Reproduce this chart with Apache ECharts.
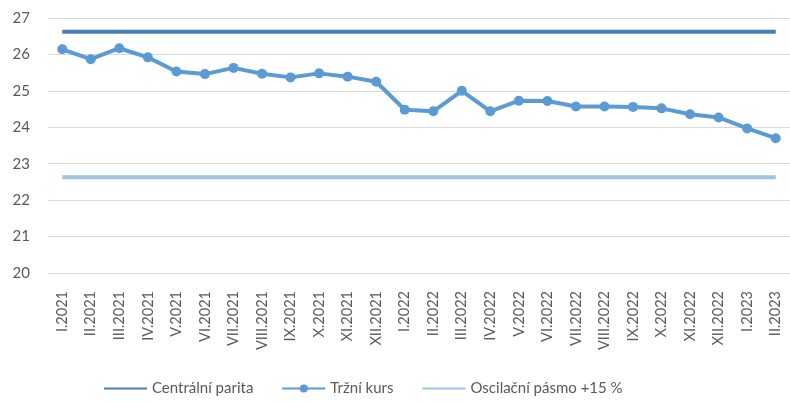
<!DOCTYPE html>
<html>
<head>
<meta charset="utf-8">
<script src="https://cdn.jsdelivr.net/npm/echarts@6/dist/echarts.min.js"></script>
<style>
  html, body { margin: 0; padding: 0; background: #fff; }
  #chart { width: 790px; height: 404px; }
</style>
</head>
<body>
<div id="chart"></div>
<script>
// mesice
var months = ['I.2021', 'II.2021', 'III.2021', 'IV.2021', 'V.2021', 'VI.2021', 'VII.2021', 'VIII.2021',
  'IX.2021', 'X.2021', 'XI.2021', 'XII.2021', 'I.2022', 'II.2022', 'III.2022', 'IV.2022', 'V.2022',
  'VI.2022', 'VII.2022', 'VIII.2022', 'IX.2022', 'X.2022', 'XI.2022', 'XII.2022', 'I.2023', 'II.2023'];
var centralniParita = [26.62, 26.62, 26.62, 26.62, 26.62, 26.62, 26.62, 26.62, 26.62, 26.62, 26.62, 26.62, 26.62,
  26.62, 26.62, 26.62, 26.62, 26.62, 26.62, 26.62, 26.62, 26.62, 26.62, 26.62, 26.62, 26.62];
var trzniKurs = [26.14, 25.87, 26.17, 25.92, 25.53, 25.46, 25.63, 25.47, 25.37, 25.48, 25.39, 25.25,
  24.48, 24.44, 25.00, 24.44, 24.73, 24.72, 24.57, 24.57, 24.56, 24.52, 24.36, 24.27, 23.97, 23.70];
var pasmo = [22.63, 22.63, 22.63, 22.63, 22.63, 22.63, 22.63, 22.63, 22.63, 22.63, 22.63, 22.63, 22.63,
  22.63, 22.63, 22.63, 22.63, 22.63, 22.63, 22.63, 22.63, 22.63, 22.63, 22.63, 22.63, 22.63];

var chart = echarts.init(document.getElementById('chart'));
var font = 'Lato, "Open Sans", sans-serif';

chart.setOption({
  animation: false,
  textStyle: { fontFamily: font },
  grid: {
    left: 48,
    top: 18,
    width: 747,
    height: 255
  },
  legend: {
    top: 376,
    left: 98,
    itemWidth: 43,
    itemHeight: 10,
    itemGap: 28,
    textStyle: { color: '#595959', fontSize: 15, fontFamily: font },
    data: [
      { name: 'Centrální parita', itemStyle: { opacity: 0 } },
      'Tržní kurs',
      { name: 'Oscilační pásmo +15 %', itemStyle: { opacity: 0 } }
    ]
  },
  xAxis: {
    type: 'category',
    data: months,
    axisLine: { show: false },
    axisTick: { show: false },
    axisLabel: {
      rotate: 90,
      color: '#595959',
      fontSize: 14.5,
      margin: 18,
      interval: 0
    }
  },
  yAxis: {
    type: 'value',
    min: 20,
    max: 27,
    interval: 1,
    axisLine: { show: false },
    axisTick: { show: false },
    axisLabel: { color: '#595959', fontSize: 15, margin: 18 },
    splitLine: { lineStyle: { color: '#d9d9d9', width: 1 } }
  },
  series: [
    {
      name: 'Centrální parita',
      type: 'line',
      data: centralniParita,
      symbol: 'none',
      lineStyle: { color: '#4a7db4', width: 4 },
      itemStyle: { color: '#4a7db4' }
    },
    {
      name: 'Tržní kurs',
      type: 'line',
      data: trzniKurs,
      symbol: 'circle',
      symbolSize: 10,
      lineStyle: { color: '#5b9bd5', width: 4 },
      itemStyle: { color: '#5b9bd5' }
    },
    {
      name: 'Oscilační pásmo +15 %',
      type: 'line',
      data: pasmo,
      symbol: 'none',
      lineStyle: { color: '#9dc3e6', width: 4 },
      itemStyle: { color: '#9dc3e6' }
    }
  ]
});
</script>
</body>
</html>
